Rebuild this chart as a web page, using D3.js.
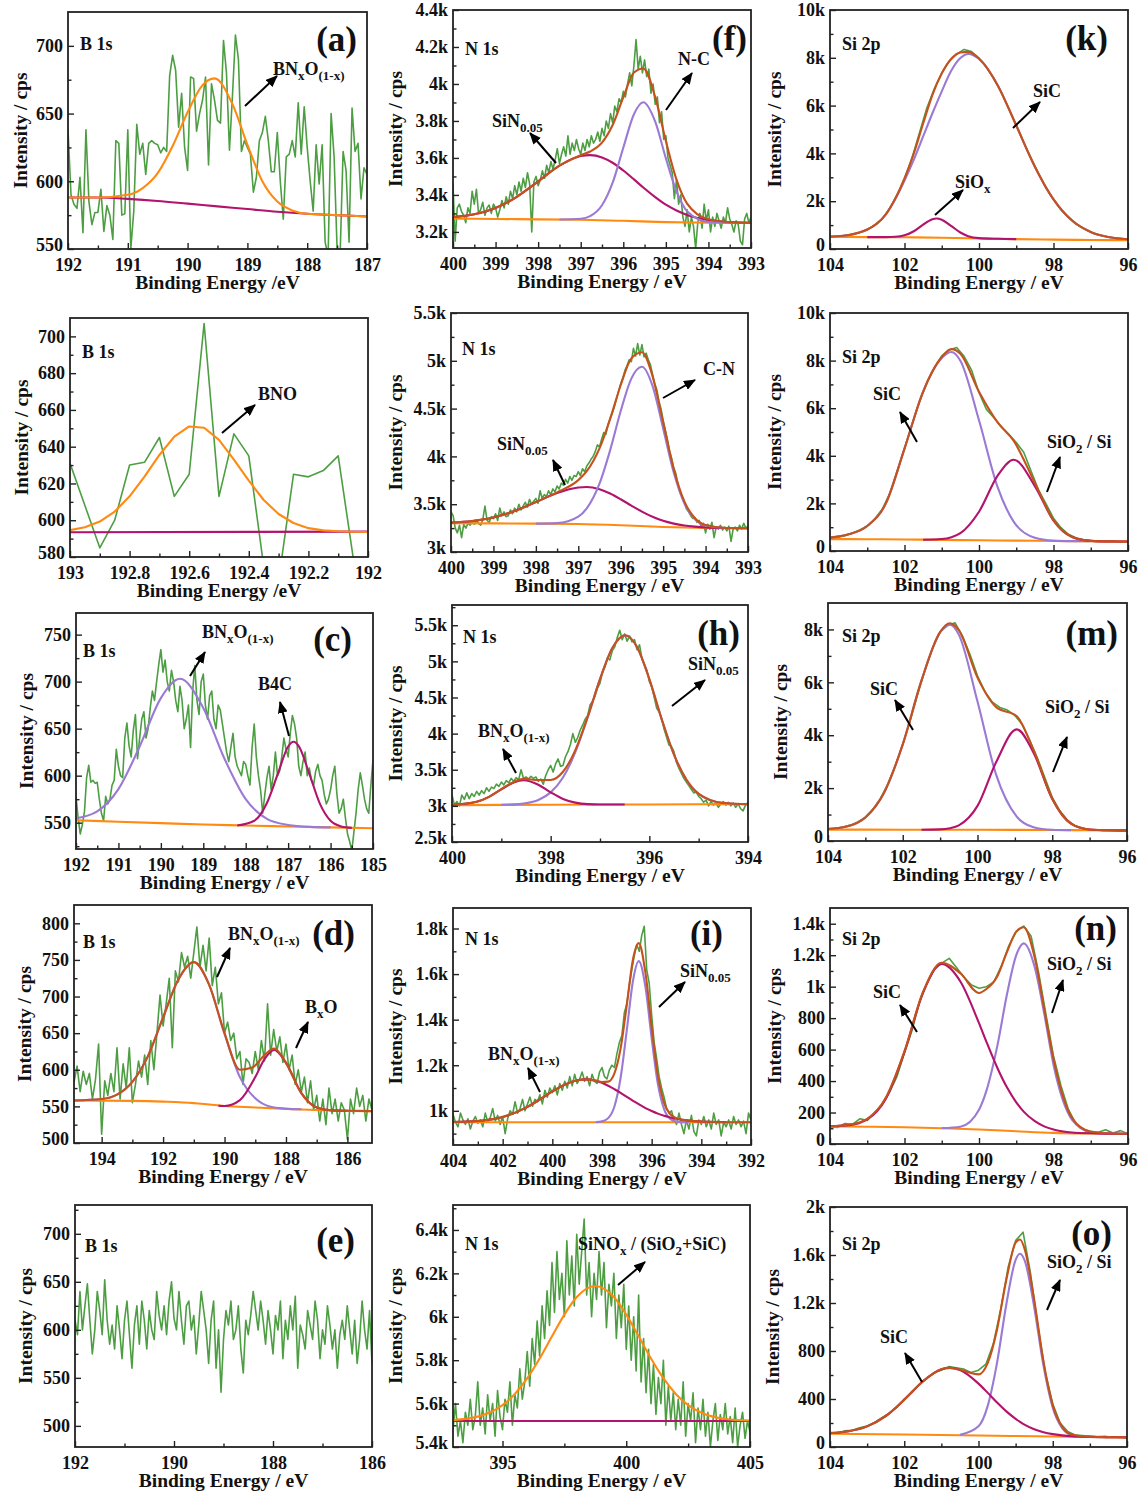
<!DOCTYPE html>
<html><head><meta charset="utf-8">
<script src="https://cdn.jsdelivr.net/npm/d3@7"></script>
<style>body{margin:0;background:#fff}</style>
</head><body>
<svg id="chart" width="1145" height="1499"></svg>
<script>
// ---------------- DATA ----------------
// (a) B 1s
const a_raw = [638,590,583,580,603,562,638,585,568,577,577,594,563,582,575,557,630,628,575,576,638,550,578,642,620,628,605,628,630,
628,627,621,625,622,678,693,682,640,665,625,608,677,676,637,650,660,677,612,672,660,645,643,704,680,623,663,708,690,622,630,625,620,592,603,630,636,648,630,607,607,636,600,572,618,620,630,618,658,620,655,625,600,578,627,598,627,555,545,650,618,550,545,622,608,555,654,622,628,587,610,605];
const a_peak = [[192,588],[191.5,588],[191,590],[190.75,595],[190.5,606],[190.25,626],[190,651],[189.75,671],[189.55,676],[189.25,657],[189,627],[188.75,600],[188.5,585],[188.25,578.5],[188,576],[187.5,575],[187,574]];
const a_base = [[192,588],[191.5,588],[191,587],[190.5,585.5],[190,583.5],[189.5,581.5],[189,579.5],[188.5,577.5],[188,576],[187.5,575],[187,574]];
// (b) B 1s
const b_raw = [631,608,585,600,630,631.5,645,613,625,707,613,647,635,575,567,625,623.6,627,635,580,565];
const b_peak = [[193,594.6],[192.95,596.2],[192.9,599.3],[192.85,604.7],[192.8,613],[192.75,623.7],[192.7,635.5],[192.65,645.5],[192.6,651],[192.55,650.3],[192.5,643.7],[192.45,633],[192.4,621.5],[192.35,611],[192.3,603.4],[192.25,598.5],[192.2,595.7],[192.15,594.5],[192.1,594],[192.05,593.7],[192,593.6]];
const b_base = [[193,593.5],[192,593.8]];
// (c) B 1s
const c_raw = [578,555,538,548,562,598,611,593,595,592,593,575,560,552,578,570,575,590,595,628,610,600,598,640,656,632,620,648,665,618,640,660,668,640,650,672,690,680,700,718,734,710,723,700,690,712,700,680,668,695,680,650,660,675,630,690,717,680,665,700,708,675,660,685,690,660,650,675,670,655,640,625,615,630,645,620,610,605,600,615,612,600,590,630,655,620,600,585,560,580,598,610,585,600,625,600,605,620,640,628,620,645,664,655,640,610,600,615,625,600,608,595,590,605,612,600,595,580,570,575,585,600,610,580,560,565,575,555,538,530,520,540,560,585,603,590,575,565,560,590,617];
const c_base = [[192,552.5],[191,551],[190,549.5],[189,548],[188,547],[187,546],[186,545],[185,544]];
const c_p1 = [[192,554.7],[191.5,562],[191,585.7],[190.5,631],[190,682.5],[189.55,703],[189,672],[188.5,618],[188,575],[187.5,554],[187,547.5],[186.5,545.5],[186,545]];
const c_p2 = [[188.2,547],[187.8,552],[187.5,571],[187.25,601],[187,631],[186.87,636],[186.75,631.5],[186.5,602],[186.25,570],[186,552],[185.75,546],[185.5,544.5]];
// (d) B 1s
const d_raw = [583,605,570,598,580,595,560,587,635,512,585,565,595,570,630,560,608,575,630,555,580,612,590,620,580,640,600,
650,702,660,690,725,630,735,720,760,740,755,725,760,795,740,770,735,780,715,740,690,705,650,665,640,650,615,625,580,615,610,595,625,600,640,612,690,620,655,625,645,610,635,600,620,580,600,570,590,555,585,545,565,530,560,525,575,540,560,530,555,545,505,560,540,575,550,565,530,560,545];
const d_base = [[194.9,558],[193,557.5],[192,556.5],[191,554.5],[190.5,552.5],[190,550.5],[189,548.5],[188,546.5],[187,545],[186,544],[185.2,543.5]];
const d_p1 = [[194.9,558],[194,560],[193.5,566],[193,583.5],[192.5,618],[192,671.5],[191.5,723.5],[191,747],[190.5,716],[190,649],[189.5,590],[189,561],[188.5,549.5],[188,547],[187.5,546]];
const d_p2 = [[190.2,550.8],[190,550.5],[189.5,558.5],[189,590],[188.7,614.5],[188.38,627],[188,609.5],[187.5,568],[187,548.4],[186.5,544.5],[186,544]];
const d_env = [[194.9,558],[194,560],[193.5,566],[193,583.5],[192.5,618],[192,671.5],[191.5,723.5],[191,747],[190.5,716],[190,650],[189.5,600],[189.1,603],[189,606],[188.7,620],[188.38,629],[188,609.5],[187.5,568],[187,548.4],[186.5,544.5],[186,544],[185.2,543.5]];
// (e) B 1s
const e_raw = [610,595,640,600,625,648,610,575,600,640,620,595,652,610,585,605,580,625,600,570,610,630,595,560,605,625,585,630,610,580,620,600,590,640,615,600,625,595,630,650,612,600,640,610,585,625,630,600,615,575,605,640,620,600,565,610,630,560,600,535,590,620,605,630,590,600,625,580,555,610,595,615,640,620,600,630,610,585,620,600,575,615,600,630,570,610,590,625,600,635,560,605,595,580,620,605,590,630,610,570,600,585,625,605,580,600,560,595,610,590,625,600,575,610,565,590,630,600,580,620,565];
// (f) N 1s
const f_raw = [3460,3150,3330,3350,3310,3290,3250,3330,3300,3420,3350,3430,3300,3320,3360,3290,3330,3345,3300,3350,3330,3280,3320,3370,3330,3390,3350,3420,3380,3450,3400,3470,3420,3490,3440,3520,3460,3200,3470,3500,3450,3480,3530,3490,3560,3520,3580,3540,3590,3650,3570,3620,3660,3610,3720,3620,3680,3640,3700,3650,3620,3680,3640,3700,3660,3720,3680,3700,3740,3690,3760,3720,3800,3760,3840,3790,3880,3850,3920,3900,3960,3930,4000,4060,3990,4100,4240,4080,4150,4060,4130,4040,4080,3950,4000,3890,3930,3790,3850,3700,3720,3600,3560,3520,3380,3480,3350,3400,3280,3230,3320,3200,3280,3230,3110,3250,3300,3220,3350,3260,3320,3200,3280,3230,3300,3260,3220,3280,3250,3330,3270,3240,3200,3260,3240,3150,3130,3270,3300,3250,3280];
const f_base = [[400,3272],[399,3270],[398,3268],[397,3266],[396,3260],[395,3253],[394,3250],[393,3248]];
const f_p1 = [[400,3280.5],[399.5,3295.5],[399,3329.6],[398.5,3390],[398,3473],[397.5,3558],[397,3610],[396.78,3615],[396.5,3603],[396.25,3574],[396,3532],[395.75,3484],[395.53,3440],[395.25,3388],[395,3347],[394.75,3316],[394.5,3292],[394,3264],[393.5,3253],[393,3249]];
const f_p2 = [[397.5,3267],[397,3271],[396.78,3285],[396.5,3344],[396.25,3466],[396,3655],[395.75,3836],[395.53,3901],[395.25,3796],[395,3598],[394.75,3419],[394.5,3312],[394,3254],[393.5,3249],[393,3248]];
const f_env = [[400,3280],[399.5,3295.5],[399,3330],[398.5,3390],[398,3473],[397.5,3558],[397,3615],[396.78,3635],[396.5,3683],[396.25,3778],[396,3927],[395.75,4062],[395.53,4084],[395.25,3929],[395,3692],[394.75,3483],[394.5,3353],[394,3268],[393.5,3253],[393,3249]];
// (g) N 1s
const g_raw = [3420,3380,3250,3200,3280,3150,3290,3250,3300,3280,3320,3290,3330,3300,3280,3340,3480,3330,3310,3370,3350,3400,3330,3460,3380,3420,3370,3380,3440,3400,3460,3420,3500,3440,3480,3520,3470,3550,3500,3530,3560,3510,3640,3560,3600,3580,3640,3600,3660,3630,3690,3660,3720,3700,3760,3720,3790,3750,3800,3790,3840,3800,3870,3840,3900,3930,3970,4000,4050,4120,4100,4180,4250,4230,4330,4400,4450,4520,4600,4680,4760,4820,4900,4950,5010,4990,5130,5050,5180,5060,5170,5040,5080,5010,4960,4860,4760,4700,4580,4500,4380,4280,4180,4060,3980,3880,3820,3700,3620,3580,3520,3450,3420,3380,3350,3360,3310,3330,3260,3300,3200,3290,3240,3310,3150,3260,3240,3280,3230,3260,3220,3270,3110,3240,3260,3220,3280,3240,3300,3250,3270];
const g_base = [[400,3300],[399,3299],[398,3297],[397,3293],[396,3280],[395,3262],[394,3252],[393,3249]];
const g_p1 = [[400,3308],[399.5,3324.5],[399,3361],[398.5,3428],[398,3522],[397.5,3617],[397,3675],[396.8,3680],[396.5,3657],[396.25,3612],[396,3552],[395.75,3486],[395.5,3423],[395.25,3369],[395,3326],[394.75,3297],[394.5,3277],[394.25,3265],[394,3257],[393.5,3251],[393,3249]];
const g_p2 = [[398,3297],[397.5,3302],[397,3370],[396.8,3457],[396.5,3715],[396.25,4063],[396,4475],[395.75,4814],[395.5,4938],[395.25,4738],[395,4293],[394.75,3831],[394.5,3508],[394.25,3342],[394,3276.5],[393.5,3251],[393,3249]];
const g_env = [[400,3308],[399.5,3325],[399,3361],[398.5,3428],[398,3522],[397.5,3624],[397,3752],[396.8,3845],[396.5,4084],[396.25,4391],[396,4747],[395.75,5025],[395.5,5090],[395.25,4840],[395,4357],[394.75,3869],[394.5,3529],[394.25,3353],[394,3282],[393.5,3251],[393,3249]];
// (h) N 1s
const h_raw = [3150,3010,3060,3000,3150,3090,3180,3100,3170,3130,3200,3150,3210,3170,3250,3200,3260,3240,3300,3270,3330,3290,3350,3320,3380,3340,3390,3360,3500,3380,3400,3370,3410,3380,3400,3340,3370,3300,3420,3500,3560,3470,3580,3650,3550,3560,3680,3750,3850,4000,3880,3950,4050,4120,4200,4250,4400,4450,4520,4630,4700,4850,4920,5050,5020,5150,5200,5330,5430,5300,5380,5280,5350,5270,5300,5160,5230,5040,4950,4880,4720,4650,4500,4350,4300,4200,4060,3950,3840,3820,3750,3600,3520,3450,3380,3330,3280,3230,3180,3190,3130,3100,3050,3080,3000,3060,3010,3040,2980,3030,3060,3010,3050,3000,3040,2980,3030,2960,2930,3010,3050];
const h_base = [[400,3010],[398,3016],[396,3020],[394,3024]];
const h_p1 = [[400,3013],[399.5,3056],[399.25,3125],[399,3229],[398.75,3324],[398.55,3355],[398.25,3292],[398,3187],[397.75,3096],[397.5,3045],[397.25,3024.5],[397,3019.5],[396.5,3019]];
const h_p2 = [[399,3016],[398.75,3021],[398.55,3033],[398.25,3081],[398,3187],[397.75,3392],[397.5,3743],[397.25,4223],[397,4753],[396.75,5184],[396.49,5361],[396.25,5199],[396,4755],[395.75,4201],[395.5,3709],[395.25,3364],[395,3167],[394.5,3039.5],[394,3024]];
const h_env = [[400,3013],[399.5,3056],[399.25,3125],[399,3231],[398.75,3331],[398.55,3373],[398.25,3358],[398,3358],[397.75,3472],[397.5,3771],[397.25,4230],[397,4754],[396.75,5184],[396.49,5361],[396.25,5199],[396,4755],[395.75,4201],[395.5,3709],[395.25,3364],[395,3167],[394.5,3040],[394,3024]];
// (i) N 1s
const i_raw = [985,950,930,990,960,940,965,920,955,975,945,960,930,990,950,970,1010,955,980,940,975,900,965,1000,985,1040,990,1010,1050,1000,1030,1060,1020,1050,1040,1070,1030,1090,1060,1100,1080,1110,1070,1120,1090,1130,1100,1150,1110,1160,1120,1140,1170,1130,1150,1110,1160,1130,1120,1170,1190,1150,1140,1180,1200,1190,1250,1300,1330,1430,1470,1550,1620,1680,1730,1700,1770,1810,1620,1560,1420,1300,1230,1150,1100,1060,1010,990,1000,960,940,990,940,900,960,920,980,910,890,960,940,975,930,960,920,990,940,960,890,950,930,960,920,975,940,960,930,955,900,990,960];
const i_base = [[404,950],[392,950]];
const i_p1 = [[404,951],[403,955.5],[402,973],[401,1017.5],[400.5,1050],[400,1085],[399.5,1115],[399,1134],[398.67,1138],[398.25,1132],[398,1123],[397.75,1110],[397.5,1095],[397.25,1079],[397,1061],[396.75,1044],[396.52,1029],[396.25,1012],[396,999],[395.75,987.6],[395.5,978],[395.25,971],[395,965],[394.5,957],[394,953],[393,950.2]];
const i_p2 = [[398.25,950.5],[398,953.6],[397.75,968],[397.5,1019],[397.25,1145],[397,1355],[396.75,1572],[396.52,1657],[396.25,1543],[396,1318],[395.75,1118],[395.5,1007],[395.25,964],[395,952.7],[394.5,950]];
const i_env = [[404,951],[403,955.5],[402,973],[401,1017.5],[400.5,1050],[400,1085],[399.5,1115],[399,1134],[398.67,1138],[398.25,1132.5],[398,1126.6],[397.75,1128],[397.5,1164],[397.25,1274],[397,1466],[396.75,1666],[396.52,1736],[396.25,1605],[396,1367],[395.75,1155.6],[395.5,1035],[395.25,985],[395,967.7],[394.5,957],[394,953],[393,950],[392,950]];
// (j) N 1s
const j_raw = [5480,5600,5450,5520,5420,5560,5500,5620,5480,5540,5700,5500,5580,5460,5640,5520,5600,5450,5660,5540,5480,5620,5560,5700,5500,5640,5580,5760,5620,5700,5840,5680,5900,5780,5980,5820,6050,5900,6120,5960,6250,6020,6300,6080,6200,6000,6350,6100,6280,6050,6380,6150,6300,6450,6100,6250,6000,6200,6080,6300,6100,6250,5950,6150,6050,6200,5900,6100,5950,6150,5850,6050,5800,6000,5750,6100,5700,5900,5650,5850,5600,5780,5550,5720,5600,5800,5500,5680,5520,5650,5480,5620,5500,5700,5450,5600,5520,5650,5420,5580,5480,5620,5450,5560,5400,5520,5600,5430,5550,5480,5600,5460,5540,5420,5580,5400,5500,5560,5440,5520,5470];
const j_base = [[393,5520],[405,5520]];
const j_peak = [[393,5524],[394,5540],[395,5593],[395.5,5644.5],[396,5717],[396.5,5808],[397,5910],[397.5,6010],[398,6091],[398.75,6142],[399.5,6091],[400,6010],[400.5,5910],[401,5808],[401.5,5717],[402,5644.5],[402.5,5593],[403,5560],[404,5529],[405,5522]];
// (k) Si 2p
const k_raw = [500,520,560,600,690,800,1010,1260,1700,2250,2950,3800,4850,5900,6700,7350,7850,8150,8350,8260,7980,7620,7140,6560,5880,5180,4450,3800,3150,2540,2080,1640,1320,1040,860,700,590,520,470,440,410];
const k_base = [[104,500],[103,498],[102,490],[101,472],[100,442],[99,415],[98,392],[97,377],[96,370]];
const k_p1 = [[104,519],[103.5,587],[103,814],[102.75,1048],[102.5,1447],[102.25,2081],[102,2866],[101.75,3742],[101.5,4711],[101.25,5679],[101,6596],[100.75,7447],[100.5,7991],[100.29,8162],[100,7957],[99.5,6856],[99,5169],[98.5,3444],[98,2077],[97.5,1189],[97,712],[96.5,492],[96,407]];
const k_p2 = [[103,498],[102.5,498],[102.25,511],[102,574],[101.75,743],[101.5,1021],[101.25,1248],[101.14,1275],[101,1226],[100.75,968],[100.5,689],[100.29,538],[100,457],[99.5,428],[99,415]];
const k_env = [[104,519],[103.5,587],[103,814],[102.75,1050],[102.5,1450],[102.25,2100],[102,2950],[101.75,4000],[101.5,5250],[101.25,6450],[101,7350],[100.75,7950],[100.5,8220],[100.29,8250],[100,7972],[99.5,6856],[99,5169],[98.5,3444],[98,2077],[97.5,1189],[97,712],[96.5,492],[96,407]];
// (l) Si 2p
const l_raw = [540,570,640,760,880,1050,1350,1750,2400,3350,4300,5300,6250,7050,7700,8200,8450,8550,8180,7600,6650,5950,5600,5220,4900,4560,4150,3350,2560,1980,1380,980,700,560,470,440,420,400,410,380,390];
const l_base = [[104,500],[103,495],[102,483],[101,466],[100,450],[99,436],[98,420],[97,407],[96,400]];
const l_p1 = [[104,560],[103.5,700],[103,1050],[102.5,2000],[102,4300],[101.5,6700],[101,8112],[100.74,8362],[100.5,7994],[100,5491],[99.5,2683],[99.07,1236],[98.5,558],[98,436],[97.5,413],[97,407]];
const l_p2 = [[101.5,475],[101,504],[100.74,581],[100.5,748],[100,1651],[99.5,3164],[99.07,3836],[98.5,2728],[98,1279],[97.5,589],[97,427],[96.5,403],[96,400]];
const l_env = [[104,560],[103.5,700],[103,1050],[102.5,2000],[102,4300],[101.5,6700],[101,8150],[100.74,8481],[100.5,8284],[100,6692],[99.5,5405],[99.07,4636],[98.5,2858],[98,1295],[97.5,589],[97,427],[96.5,403],[96,400]];
// (m) Si 2p
const m_raw = [460,480,530,600,720,900,1200,1600,2150,2850,3650,4550,5550,6480,7300,7900,8150,8250,7750,7050,6250,5650,5250,5050,4950,4750,4400,3800,3150,2400,1650,1150,800,580,480,430,420,400,390,370,380];
const m_base = [[104,430],[102,427],[100,423],[98,415],[97,407],[96,400]];
const m_p1 = [[104,451],[103.5,545],[103,890],[102.5,1825],[102,3652],[101.5,6062],[101,7889],[100.74,8175],[100.5,7804],[100,5274],[99.5,2499],[98.95,920],[98.5,523],[98,427],[97.5,411]];
const m_p2 = [[101.5,426],[101,441],[100.74,484],[100.5,590],[100,1327],[99.5,2985],[98.95,4220],[98.5,3337],[98,1589],[97.5,657],[97,434],[96.5,405],[96,400]];
const m_env = [[104,451],[103.5,545],[103,890],[102.5,1825],[102,3652],[101.5,6062],[101,7905],[100.74,8234],[100.5,7970],[100,6178],[99.5,5062],[98.95,4720],[98.5,3442],[98,1601],[97.5,657],[97,434],[96.5,405],[96,400]];
// (n) Si 2p
const n_raw = [110,105,130,125,160,150,200,250,330,430,580,720,900,1020,1110,1150,1180,1120,1060,1010,990,1000,1030,1130,1260,1350,1385,1320,1090,820,560,370,220,130,95,80,75,90,70,85,65];
const n_base = [[104,112],[103,110],[102,106],[101,100],[100,92],[99,81],[98,71],[97,67],[96,65]];
const n_p1 = [[104,113],[103.5,119],[103,156],[102.5,288],[102,585],[101.5,963],[101,1145],[100.5,1033],[100,768],[99.8,649],[99.5,480],[99.25,360],[99,265],[98.8,206],[98.5,145],[98.25,112],[98,92],[97.5,73],[97,68],[96.5,66],[96,65]];
const n_p2 = [[101,101],[100.5,110],[100,218],[99.8,339],[99.5,633],[99.25,950],[99,1200],[98.8,1275],[98.5,1120],[98.25,830],[98,504],[97.5,154],[97,75],[96.5,66],[96,65]];
const n_env = [[104,113],[103.5,122],[103,160],[102.5,295],[102,590],[101.5,968],[101,1152],[100.5,1085],[100,960],[99.8,985],[99.5,1070],[99.25,1220],[99,1350],[98.8,1378],[98.5,1180],[98.25,860],[98,540],[97.5,165],[97,78],[96.5,67],[96,65]];
// (o) Si 2p
const o_raw = [120,115,135,140,160,175,205,245,285,330,400,450,520,570,620,640,670,660,650,620,640,690,860,1150,1500,1720,1790,1450,1010,620,360,200,130,100,95,90,85,90,80,85,78];
const o_base = [[104,110],[102,104],[100,96],[98,87],[96,80]];
const o_p1 = [[104,116],[103.5,131],[103,172],[102.5,257],[102,394],[101.5,546],[101,647],[100.77,659],[100.5,641],[100,528],[99.75,451],[99.5,371],[99.25,297],[99,235],[98.88,209],[98.75,184],[98.5,148],[98.25,123],[98,107],[97.75,97],[97.5,90],[97,85],[96.5,82],[96,80]];
const o_p2 = [[100.5,101],[100,173],[99.75,345],[99.5,703],[99.25,1190],[99,1560],[98.88,1611],[98.75,1549],[98.5,1167],[98.25,678],[98,328],[97.75,159],[97.5,101.5],[97,84],[96.5,82]];
const o_env = [[104,116],[103.5,131],[103,172],[102.5,257],[102,394],[101.5,546],[101,647],[100.77,659],[100.5,644],[100,605],[99.75,701],[99.5,980],[99.25,1394],[99,1703],[98.88,1729],[98.75,1643],[98.5,1226],[98.25,713],[98,348],[97.75,170],[97.5,106],[97,85],[96.5,82],[96,80]];

// tick values
const xt_a = [192,191,190,189,188,187], yt_a = [550,600,650,700];
const xt_b = [193,192.8,192.6,192.4,192.2,192], yt_b = [580,600,620,640,660,680,700];
const xt_c = [192,191,190,189,188,187,186,185], yt_c = [550,600,650,700,750];
const xt_d = [194,192,190,188,186], yt_d = [500,550,600,650,700,750,800];
const xt_e = [192,190,188,186], yt_e = [500,550,600,650,700];
const xt_f = [400,399,398,397,396,395,394,393], yt_f = [3200,3400,3600,3800,4000,4200,4400];
const yt_g = [3000,3500,4000,4500,5000,5500];
const xt_h = [400,398,396,394], yt_h = [2500,3000,3500,4000,4500,5000,5500];
const xt_i = [404,402,400,398,396,394,392], yt_i = [1000,1200,1400,1600,1800];
const xt_j = [395,400,405], yt_j = [5400,5600,5800,6000,6200,6400];
const xt_si = [104,102,100,98,96];
const yt_k = [0,2000,4000,6000,8000,10000], yt_m = [0,2000,4000,6000,8000];
const yt_n = [0,200,400,600,800,1000,1200,1400], yt_o = [0,400,800,1200,1600,2000];

// label texts
const L_BNO1x = [["BN"],["x",1],["O"],["(1-x)",1]];
const L_SiN = [["SiN"],["0.05",1]];
const L_SiO2Si = [["SiO"],["2",1],[" / Si"]];

// ---------------- LAYOUT / STYLE ----------------
const COL = {green:"#4d9e43", orange:"#ff8a12", magenta:"#b2136d", purple:"#9a7ad4", brown:"#c5521c"};
const FONT = "'Liberation Serif','Times New Roman',Times,serif";
const ET = "Binding Energy / eV", ET2 = "Binding Energy /eV";

const panels = [
 {box:[68,12,367,249], xd:[192,187], yd:[550,725], xt:xt_a, yt:yt_a, raw:a_raw, curves:[[a_base,"magenta"],[a_peak,"orange"]], xTitle:ET2, ytx:20, core:[12,38,"B 1s"], letter:[289,39,"(a)"],
  notes:[{t:L_BNO1x, at:[205,63], ar:[177,94,209,64]}]},
 {box:[70,318,368,557], xd:[193,192], yd:[580,710], xt:xt_b, yt:yt_b, raw:b_raw, curves:[[b_base,"magenta"],[b_peak,"orange",true]], xTitle:ET2, ytx:21, core:[12,40,"B 1s"],
  notes:[{t:[["BNO"]], at:[188,82], ar:[152,115,185,87]}]},
 {box:[76,613,373,849], xd:[192,185], yd:[522,773], xt:xt_c, yt:yt_c, raw:c_raw, curves:[[c_base,"orange"],[c_p1,"purple"],[c_p2,"magenta"]], xTitle:ET, ytx:26, core:[7,44,"B 1s"], letter:[276,38,"(c)"],
  notes:[{t:L_BNO1x, at:[126,25], ar:[114,63,129,39]},{t:[["B4C"]], at:[182,77], ar:[213,123,204,89]}]},
 {box:[74,905,372,1143], xd:[194.9,185.2], yd:[500,825], xt:xt_d, yt:yt_d, raw:d_raw, curves:[[d_base,"orange"],[d_p1,"purple"],[d_p2,"magenta"],[d_env,"brown"]], xTitle:ET, ytx:24, core:[9,43,"B 1s"], letter:[281,40,"(d)"],
  notes:[{t:L_BNO1x, at:[154,35], ar:[143,72,156,43]},{t:[["B"],["x",1],["O"]], at:[231,108], ar:[222,143,234,117]}]},
 {box:[75,1205,372,1447], xd:[192,186], yd:[478,730], xt:xt_e, yt:yt_e, raw:e_raw, curves:[], xTitle:ET, ytx:25, core:[10,47,"B 1s"], letter:[280,47,"(e)"], notes:[]},

 {box:[453,10,751,248], xd:[400,393], yd:[3113,4400], xt:xt_f, yt:yt_f, raw:f_raw, curves:[[f_base,"orange"],[f_p1,"magenta"],[f_p2,"purple"],[f_env,"brown"]], xTitle:ET, ytx:395, core:[12,45,"N 1s"], letter:[294,40,"(f)"],
  notes:[{t:[["N-C"]], at:[225,55], ar:[213,100,239,63]},{t:L_SiN, at:[39,117], ar:[103,153,77,123]}]},
 {box:[451,313,748,552], xd:[400,393], yd:[3000,5500], xt:xt_f, yt:yt_g, raw:g_raw, curves:[[g_base,"orange"],[g_p1,"magenta"],[g_p2,"purple"],[g_env,"brown"]], xTitle:ET, ytx:395, core:[11,42,"N 1s"],
  notes:[{t:[["C-N"]], at:[252,62], ar:[212,85,244,67]},{t:L_SiN, at:[46,137], ar:[114,172,102,147]}]},
 {box:[452,605,748,842], xd:[400,394], yd:[2500,5780], xt:xt_h, yt:yt_h, raw:h_raw, curves:[[h_base,"orange"],[h_p2,"purple"],[h_p1,"magenta"],[h_env,"brown"]], xTitle:ET, ytx:395, core:[11,38,"N 1s"], letter:[288,40,"(h)"],
  notes:[{t:L_SiN, at:[236,65], ar:[220,101,253,75]},{t:L_BNO1x, at:[26,132], ar:[64,168,51,144]}]},
 {box:[453,908,751,1145], xd:[404,392], yd:[850,1890], xt:xt_i, yt:yt_i, raw:i_raw, curves:[[i_base,"orange"],[i_p2,"purple"],[i_p1,"magenta"],[i_env,"brown"]], xTitle:ET, ytx:395, core:[12,37,"N 1s"], letter:[270,37,"(i)"],
  notes:[{t:L_SiN, at:[227,69], ar:[206,99,232,74]},{t:L_BNO1x, at:[35,152], ar:[87,184,75,160]}]},
 {box:[453,1205,750,1447], xd:[393,405], yd:[5400,6515], xt:xt_j, yt:yt_j, raw:j_raw, curves:[[j_base,"magenta"],[j_peak,"orange"]], xTitle:ET, ytx:395, core:[12,45,"N 1s"],
  notes:[{t:[["SiNO"],["x",1],[" / (SiO"],["2",1],["+SiC)"]], at:[125,45], ar:[165,80,192,57]}]},

 {box:[830,10,1128,249], xd:[104,96], yd:[0,10000], xt:xt_si, yt:yt_k, raw:k_raw, curves:[[k_base,"orange"],[k_p1,"purple"],[k_p2,"magenta"],[k_env,"brown"]], xTitle:ET, ytx:774, core:[12,40,"Si 2p"], letter:[278,40,"(k)"],
  notes:[{t:[["SiC"]], at:[203,87], ar:[183,118,210,92]},{t:[["SiO"],["x",1]], at:[125,178], ar:[105,205,133,180]}]},
 {box:[830,313,1128,551], xd:[104,96], yd:[0,10000], xt:xt_si, yt:yt_k, raw:l_raw, curves:[[l_base,"orange"],[l_p1,"purple"],[l_p2,"magenta"],[l_env,"brown"]], xTitle:ET, ytx:774, core:[12,50,"Si 2p"],
  notes:[{t:[["SiC"]], at:[43,87], ar:[87,129,70,99]},{t:L_SiO2Si, at:[217,135], ar:[217,179,230,144]}]},
 {box:[828,603,1127,841], xd:[104,96], yd:[0,9000], xt:xt_si, yt:yt_m, raw:m_raw, curves:[[m_base,"orange"],[m_p1,"purple"],[m_p2,"magenta"],[m_env,"brown"]], xTitle:ET, ytx:780, core:[14,39,"Si 2p"], letter:[290,42,"(m)"],
  notes:[{t:[["SiC"]], at:[42,92], ar:[85,127,67,97]},{t:L_SiO2Si, at:[217,110], ar:[225,169,239,134]}]},
 {box:[830,908,1128,1144], xd:[104,96], yd:[0,1500], xt:xt_si, yt:yt_n, raw:n_raw, curves:[[n_base,"orange"],[n_p2,"purple"],[n_p1,"magenta"],[n_env,"brown"]], xTitle:ET, ytx:774, core:[12,37,"Si 2p"], letter:[287,32,"(n)"],
  notes:[{t:[["SiC"]], at:[43,90], ar:[87,124,70,97]},{t:L_SiO2Si, at:[217,62], ar:[222,105,233,72]}]},
 {box:[830,1207,1127,1447], xd:[104,96], yd:[0,2000], xt:xt_si, yt:yt_o, raw:o_raw, curves:[[o_base,"orange"],[o_p2,"purple"],[o_p1,"magenta"],[o_env,"brown"]], xTitle:ET, ytx:772, core:[12,43,"Si 2p"], letter:[282,38,"(o)"],
  notes:[{t:L_SiO2Si, at:[217,61], ar:[217,103,230,73]},{t:[["SiC"]], at:[50,136], ar:[92,175,75,146]}]}
];

// ---------------- DRAW ----------------
const svg = d3.select("#chart").style("font-family", FONT);
svg.append("rect").attr("width",1145).attr("height",1499).attr("fill","#fff");
const defs = svg.append("defs");
defs.append("marker").attr("id","ah").attr("markerUnits","userSpaceOnUse")
  .attr("markerWidth",12).attr("markerHeight",10).attr("refX",11).attr("refY",5).attr("orient","auto")
  .append("path").attr("d","M0,0 L12,5 L0,10 Z").attr("fill","#000");

const fmtY = v => v >= 1000 ? (+(v/1000).toFixed(1)) + "k" : String(v);
const fmtX = v => String(+v.toFixed(1));
function minors(ticks, dom) {
  const step = Math.abs(ticks[1]-ticks[0]);
  const lo = Math.min(...dom), hi = Math.max(...dom);
  const out = [];
  ticks.forEach(t => [t - step/2, t + step/2].forEach(m => { if (m > lo + 1e-6 && m < hi - 1e-6 && !out.some(o => Math.abs(o-m) < 1e-6)) out.push(m); }));
  return out;
}
function richText(sel, segs) {
  let sub = false;
  segs.forEach(([s, isSub]) => {
    const ts = sel.append("tspan").text(s);
    if (isSub && !sub) { ts.attr("dy", 5).attr("font-size", 13); sub = true; }
    else if (isSub) { ts.attr("font-size", 13); }
    else if (!isSub && sub) { ts.attr("dy", -5); sub = false; }
  });
}

panels.forEach((p, idx) => {
  const [L,T,R,B] = p.box;
  const x = d3.scaleLinear().domain(p.xd).range([L,R]);
  const y = d3.scaleLinear().domain(p.yd).range([B,T]);
  const cid = "clip" + idx;
  defs.append("clipPath").attr("id", cid).append("rect").attr("x",L).attr("y",T).attr("width",R-L).attr("height",B-T);
  const g = svg.append("g");
  const plot = g.append("g").attr("clip-path", `url(#${cid})`);

  const n = p.raw.length;
  const rawPts = p.raw.map((v,i) => [p.xd[0] + i*(p.xd[1]-p.xd[0])/(n-1), v]);
  plot.append("path").datum(rawPts)
    .attr("d", d3.line().x(d => x(d[0])).y(d => y(d[1])))
    .attr("fill","none").attr("stroke",COL.green).attr("stroke-width",1.6).attr("stroke-linejoin","round");

  p.curves.forEach(([data, c, lin]) => {
    plot.append("path").datum(data)
      .attr("d", d3.line().x(d => x(d[0])).y(d => y(d[1])).curve(lin ? d3.curveLinear : d3.curveMonotoneX))
      .attr("fill","none").attr("stroke",COL[c]).attr("stroke-width",2.1).attr("stroke-linejoin","round");
  });

  // axes
  g.append("g").attr("transform",`translate(0,${B})`)
    .call(d3.axisBottom(x).tickValues(p.xt).tickSize(-6).tickPadding(9).tickFormat(fmtX));
  g.append("g").attr("transform",`translate(0,${B})`)
    .call(d3.axisBottom(x).tickValues(minors(p.xt,p.xd)).tickSize(-3.5).tickFormat(""));
  const ya = g.append("g").attr("transform",`translate(${L},0)`)
    .call(d3.axisLeft(y).tickValues(p.yt).tickSize(-6).tickPadding(5).tickFormat(fmtY));
  ya.selectAll(".tick").filter(d => d === p.yd[0]).select("text").attr("dy","0.1em");
  g.append("g").attr("transform",`translate(${L},0)`)
    .call(d3.axisLeft(y).tickValues(minors(p.yt,p.yd)).tickSize(-3.5).tickFormat(""));
  g.selectAll(".domain").remove();
  g.selectAll(".tick line").attr("stroke","#222").attr("stroke-width",1.4);
  g.selectAll(".tick text").attr("font-family",FONT).attr("font-weight","bold").attr("font-size",18).attr("fill","#111");

  g.append("rect").attr("x",L).attr("y",T).attr("width",R-L).attr("height",B-T)
    .attr("fill","none").attr("stroke","#222").attr("stroke-width",1.8);

  // titles
  g.append("text").attr("x",(L+R)/2).attr("y",B+40).attr("text-anchor","middle")
    .attr("font-weight","bold").attr("font-size",19.5).attr("fill","#111").text(p.xTitle);
  g.append("text").attr("transform",`translate(${p.ytx},${(T+B)/2}) rotate(-90)`).attr("dy","0.35em")
    .attr("text-anchor","middle").attr("font-weight","bold").attr("font-size",19.5).attr("fill","#111").text("Intensity / cps");

  // core-level label & letter
  g.append("text").attr("x",L+p.core[0]).attr("y",T+p.core[1]).attr("font-weight","bold").attr("font-size",18).attr("fill","#111").text(p.core[2]);
  if (p.letter) g.append("text").attr("x",L+p.letter[0]).attr("y",T+p.letter[1]).attr("text-anchor","end")
    .attr("font-weight","bold").attr("font-size",35).attr("fill","#111").text(p.letter[2]);

  p.notes.forEach(nt => {
    const t = g.append("text").attr("x",L+nt.at[0]).attr("y",T+nt.at[1]).attr("font-weight","bold").attr("font-size",18)
      .attr("fill","#111").style("white-space","pre");
    richText(t, nt.t);
    const a = nt.ar;
    g.append("line").attr("x1",L+a[0]).attr("y1",T+a[1]).attr("x2",L+a[2]).attr("y2",T+a[3])
      .attr("stroke","#000").attr("stroke-width",2).attr("marker-end","url(#ah)");
  });
});
</script>
</body></html>
